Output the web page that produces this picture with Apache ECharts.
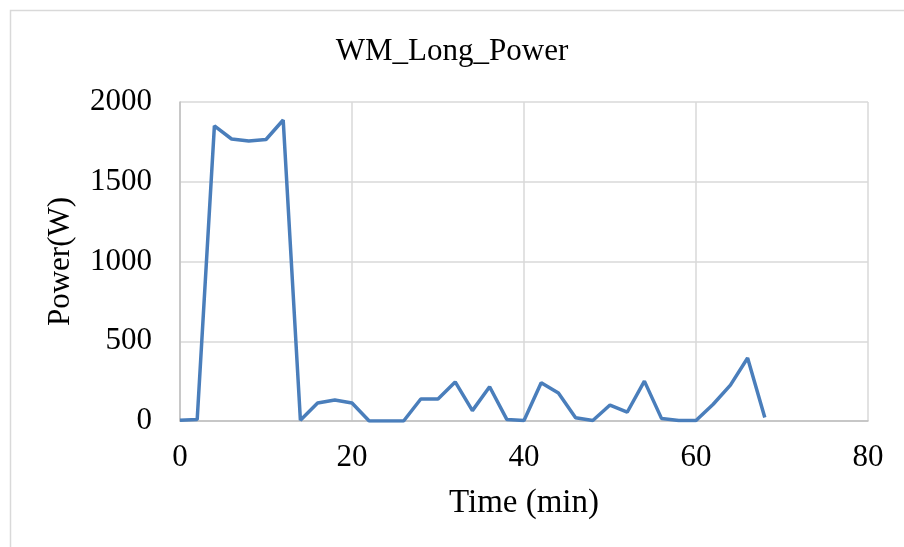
<!DOCTYPE html>
<html><head><meta charset="utf-8">
<script src="https://cdn.jsdelivr.net/npm/echarts@6/dist/echarts.min.js"></script>
<style>html,body{margin:0;padding:0;background:#fff;}#c{width:904px;height:547px;}</style>
</head><body><div id="c"></div>
<script>
const times = [0,2,4,6,8,10,12,14,16,18,20,22,24,26,28,30,32,34,36,38,40,42,44,46,48,50,52,54,56,58,60,62,64,66,68];
const power = [5,10,1850,1768,1755,1765,1887,5,113,132,113,0,0,0,138,138,245,65,215,10,3,240,175,20,3,100,55,250,15,3,3,105,225,395,22];
const title = 'WM_Long_Power';
const xName = 'Time (min)';
const yName = 'Power(W)';

const chart = echarts.init(document.getElementById('c'));
const font = 'Liberation Serif, Times New Roman, serif';
chart.setOption({
  animation: false,
  backgroundColor: '#fff',
  graphic: [{type:'rect', shape:{x:10.5,y:10.5,width:900,height:545}, style:{fill:'none', stroke:'#d9d9d9', lineWidth:1.5}}],
  title: {text: title, left: 'center', top: 31, textStyle:{fontFamily: font, fontSize: 31, fontWeight:'normal', color:'#000'}},
  grid: {left:180, right:36, top:102, bottom:126},
  xAxis: {type:'value', min:0, max:80, interval:20,
    name: xName, nameLocation:'middle', nameGap:66,
    nameTextStyle:{fontFamily:font, fontSize:33, color:'#000'},
    axisLine:{show:true, lineStyle:{color:'#bfbfbf', width:1.5}},
    axisTick:{show:false},
    axisLabel:{fontFamily:font, fontSize:31, color:'#000', margin:21, formatter:(v)=>String(v)},
    splitLine:{show:true, lineStyle:{color:'#d9d9d9', width:1.5}}},
  yAxis: {type:'value', min:0, max:2000, interval:500,
    name: yName, nameLocation:'middle', nameGap:104, nameRotate:90,
    nameTextStyle:{fontFamily:font, fontSize:31, color:'#000'},
    axisLine:{show:true, lineStyle:{color:'#bfbfbf', width:1.5}},
    axisTick:{show:false},
    axisLabel:{fontFamily:font, fontSize:31, color:'#000', margin:28, formatter:(v)=>String(v)},
    splitLine:{show:true, lineStyle:{color:'#d9d9d9', width:1.5}}},
  series: [{type:'line', data: times.map((t,i)=>[t, power[i]]), showSymbol:false,
    lineStyle:{color:'#4a7ebb', width:3.5}, itemStyle:{color:'#4a7ebb'}}]
});
</script></body></html>
